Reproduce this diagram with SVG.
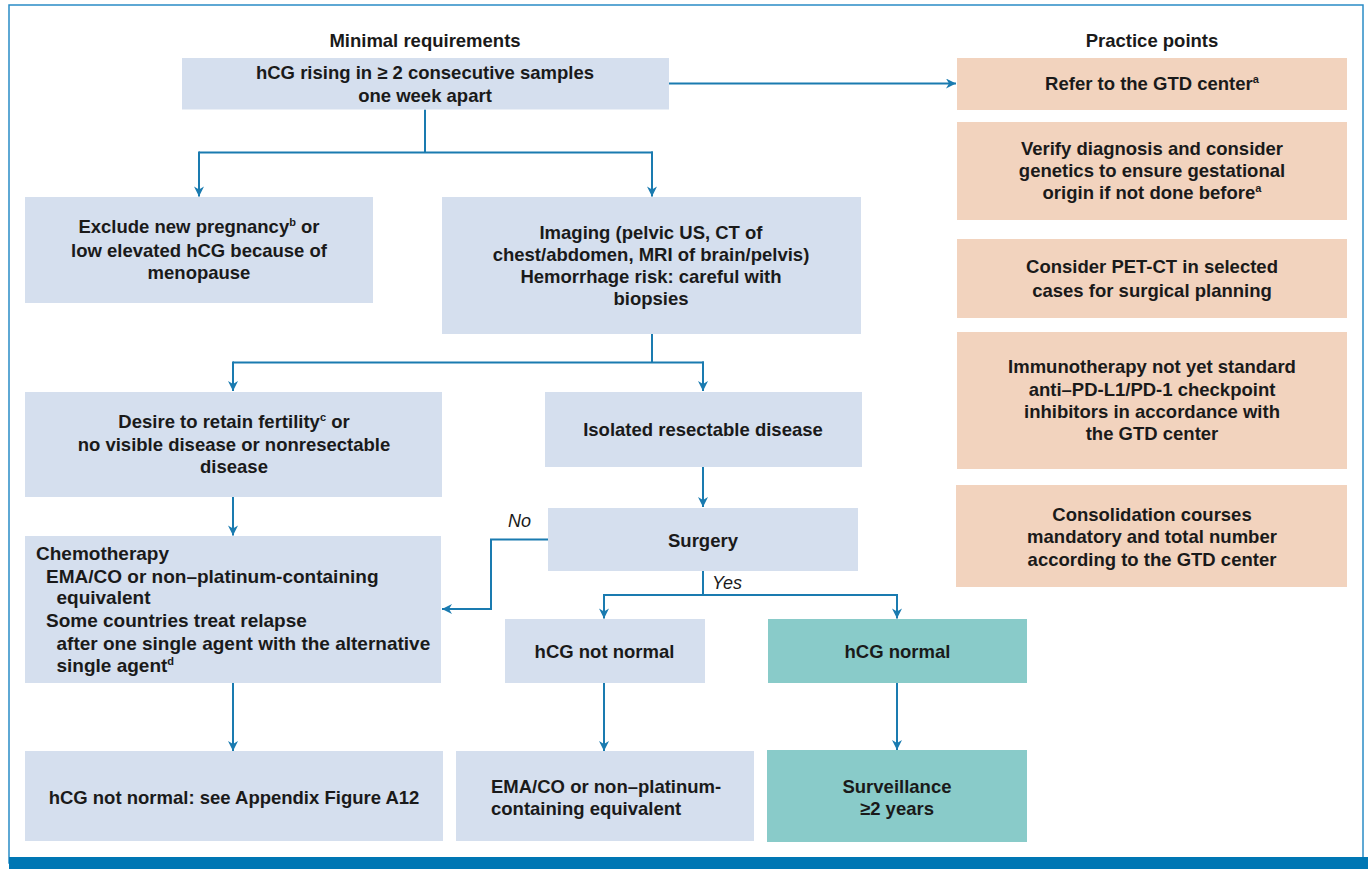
<svg xmlns="http://www.w3.org/2000/svg" width="1368" height="869" viewBox="0 0 1368 869">
<defs>
<style>
.t{font-family:"Liberation Sans",Arial,Helvetica,sans-serif;font-weight:bold;font-size:18.5px;fill:#1a1a1a}
.m{text-anchor:middle}
.k{font-size:19px}
.i{font-family:"Liberation Sans",Arial,Helvetica,sans-serif;font-style:italic;font-size:18px;fill:#1a1a1a}
.b{fill:#D5DFEE}
.p{fill:#F2D3BE}
.g{fill:#89CBC9}
.c{fill:none;stroke:#1a7bb0;stroke-width:2}
.a{marker-end:url(#ah)}
</style>
<marker id="ah" viewBox="0 0 10 10" refX="10" refY="5" markerWidth="11" markerHeight="10" markerUnits="userSpaceOnUse" orient="auto">
<path d="M0,0 L10,5 L0,10 L3,5 z" fill="#1a7bb0"/>
</marker>
</defs>
<rect width="1368" height="869" fill="#ffffff"/>
<rect x="9" y="5" width="1354" height="858" fill="none" stroke="#2a8cc6" stroke-width="1.5"/>
<rect x="9" y="857" width="1359" height="12" fill="#0077b4"/>

<text class="t m" x="425" y="46.5">Minimal requirements</text>
<text class="t m" x="1152" y="46.5">Practice points</text>

<g id="connectors">
<path class="c a" d="M669,83.5 H956"/>
<path class="c" d="M425,109.5 V152.5 M199,152.5 H653"/>
<path class="c a" d="M199,151.5 V196.5"/>
<path class="c a" d="M652,151.5 V196.5"/>
<path class="c" d="M652,333.5 V362.5 M233,362.5 H704"/>
<path class="c a" d="M233,361.5 V391"/>
<path class="c a" d="M703,361.5 V391"/>
<path class="c a" d="M703,466.5 V507"/>
<path class="c a" d="M233,497 V535.5"/>
<path class="c a" d="M548,539.5 H491 V609 H442"/>
<path class="c" d="M703,571 V595 M604,595 H898"/>
<path class="c a" d="M604,594 V618.5"/>
<path class="c a" d="M897,594 V618.5"/>
<path class="c a" d="M233,682.5 V751"/>
<path class="c a" d="M604,683 V751"/>
<path class="c a" d="M897,683 V750"/>
<text class="i" x="508" y="527">No</text>
<text class="i" x="712" y="589">Yes</text>
</g>

<g id="n-rising">
<rect class="b" x="182" y="58" width="487" height="51.5"/>
<text class="t m" x="425" y="79">hCG rising in ≥ 2 consecutive samples</text>
<text class="t m" x="425" y="102">one week apart</text>
</g>

<g id="p-refer">
<rect class="p" x="957" y="58" width="390" height="52"/>
<text class="t m" x="1152" y="89.5">Refer to the GTD center<tspan font-size="11" dy="-7">a</tspan></text>
</g>

<g id="p-verify">
<rect class="p" x="957" y="122" width="390" height="98"/>
<text class="t m" x="1152" y="154.5">Verify diagnosis and consider</text>
<text class="t m" x="1152" y="176.5">genetics to ensure gestational</text>
<text class="t m" x="1152" y="198.5">origin if not done before<tspan font-size="11" dy="-7">a</tspan></text>
</g>

<g id="p-pet">
<rect class="p" x="957" y="239" width="390" height="79"/>
<text class="t m" x="1152" y="273">Consider PET-CT in selected</text>
<text class="t m" x="1152" y="296.5">cases for surgical planning</text>
</g>

<g id="p-immuno">
<rect class="p" x="957" y="332" width="390" height="137"/>
<text class="t m" x="1152" y="373">Immunotherapy not yet standard</text>
<text class="t m" x="1152" y="395.5">anti–PD-L1/PD-1 checkpoint</text>
<text class="t m" x="1152" y="417.5">inhibitors in accordance with</text>
<text class="t m" x="1152" y="440">the GTD center</text>
</g>

<g id="p-consol">
<rect class="p" x="956" y="485" width="391" height="102"/>
<text class="t m" x="1152" y="520.5">Consolidation courses</text>
<text class="t m" x="1152" y="542.5">mandatory and total number</text>
<text class="t m" x="1152" y="565.5">according to the GTD center</text>
</g>

<g id="n-exclude">
<rect class="b" x="25" y="197" width="348" height="106"/>
<text class="t m" x="199" y="233">Exclude new pregnancy<tspan font-size="11" dy="-7">b</tspan><tspan dy="7"> or</tspan></text>
<text class="t m" x="199" y="256.5">low elevated hCG because of</text>
<text class="t m" x="199" y="279">menopause</text>
</g>

<g id="n-imaging">
<rect class="b" x="442" y="197" width="419" height="137"/>
<text class="t m" x="651" y="239">Imaging (pelvic US, CT of</text>
<text class="t m" x="651" y="260.5">chest/abdomen, MRI of brain/pelvis)</text>
<text class="t m" x="651" y="282.5">Hemorrhage risk: careful with</text>
<text class="t m" x="651" y="305">biopsies</text>
</g>

<g id="n-desire">
<rect class="b" x="25" y="392" width="417" height="105"/>
<text class="t m" x="234" y="428">Desire to retain fertility<tspan font-size="11" dy="-7">c</tspan><tspan dy="7"> or</tspan></text>
<text class="t m" x="234" y="451">no visible disease or nonresectable</text>
<text class="t m" x="234" y="473">disease</text>
</g>

<g id="n-isolated">
<rect class="b" x="545" y="392" width="317" height="75"/>
<text class="t m" x="703" y="436">Isolated resectable disease</text>
</g>

<g id="n-surgery">
<rect class="b" x="548" y="508" width="310" height="63"/>
<text class="t m" x="703" y="546.5">Surgery</text>
</g>

<g id="n-chemo">
<rect class="b" x="25" y="536" width="416" height="147"/>
<text class="t k" x="36" y="560">Chemotherapy</text>
<text class="t k" x="46" y="583">EMA/CO or non–platinum-containing</text>
<text class="t k" x="56.5" y="604">equivalent</text>
<text class="t k" x="46" y="626.5">Some countries treat relapse</text>
<text class="t k" x="56.5" y="650">after one single agent with the alternative</text>
<text class="t k" x="56.5" y="671.5">single agent<tspan font-size="11" dy="-7">d</tspan></text>
</g>

<g id="n-notnormal">
<rect class="b" x="505" y="619" width="200" height="64"/>
<text class="t m" x="604.5" y="657.5">hCG not normal</text>
</g>

<g id="n-normal">
<rect class="g" x="768" y="619" width="259" height="64"/>
<text class="t m" x="897.5" y="657.5">hCG normal</text>
</g>

<g id="n-appendix">
<rect class="b" x="25" y="751" width="418" height="90"/>
<text class="t m" x="234" y="803.5">hCG not normal: see Appendix Figure A12</text>
</g>

<g id="n-emaco">
<rect class="b" x="456" y="751" width="298" height="90"/>
<text class="t" x="491" y="792.5">EMA/CO or non–platinum-</text>
<text class="t" x="491" y="814.5">containing equivalent</text>
</g>

<g id="n-surveil">
<rect class="g" x="767" y="750" width="260" height="92"/>
<text class="t m" x="897" y="792.5">Surveillance</text>
<text class="t m" x="897" y="814.5">≥2 years</text>
</g>
</svg>
